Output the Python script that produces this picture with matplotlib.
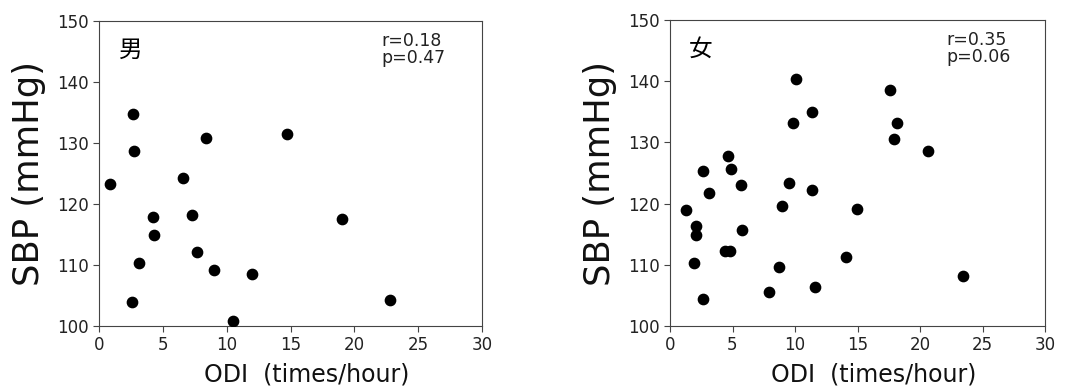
import matplotlib
matplotlib.use("Agg")
import matplotlib.pyplot as plt

# Data: male
male_odi = [0.86, 2.64, 2.77, 2.56, 3.11, 4.26, 4.34, 6.58, 7.32, 7.71, 8.36, 8.99,
            10.48, 11.99, 14.71, 19.02, 22.76]
male_sbp = [123.3, 134.8, 128.7, 104.0, 110.4, 117.9, 114.9, 124.3, 118.2, 112.1, 130.9,
            109.2, 100.9, 108.6, 131.4, 117.5, 104.2]
# Data: female
female_odi = [1.25, 2.11, 2.11, 1.95, 2.67, 2.67, 3.09, 4.61, 4.88, 4.37, 4.83, 5.68,
              5.73, 7.95, 8.72, 8.99, 9.49, 9.84, 10.08, 11.39, 11.39, 11.63, 14.08,
              14.96, 17.60, 17.95, 18.16, 20.67, 23.41]
female_sbp = [118.9, 116.4, 114.8, 110.3, 125.3, 104.4, 121.8, 127.7, 125.7, 112.3, 112.3,
              123.0, 115.7, 105.6, 109.7, 119.6, 123.3, 133.2, 140.4, 135.0, 122.2, 106.4,
              111.2, 119.1, 138.6, 130.6, 133.2, 128.6, 108.1]

panels = [
    ("男", male_odi, male_sbp, "r=0.18", "p=0.47"),
    ("女", female_odi, female_sbp, "r=0.35", "p=0.06"),
]
xticks = [0, 5, 10, 15, 20, 25, 30]
yticks = [100, 110, 120, 130, 140, 150]

fig = plt.figure(figsize=(10.75, 3.92), dpi=100)
rects = [
    [99 / 1075, 66 / 392, 383 / 1075, 305 / 392],
    [670 / 1075, 66 / 392, 375 / 1075, 306 / 392],
]

spine_col = "#444444"
for rect, (sex, xs, ys, rtxt, ptxt) in zip(rects, panels):
    ax = fig.add_axes(rect)
    ax.scatter(xs, ys, s=55, color="black", zorder=3)
    ax.set_xlim(0, 30)
    ax.set_ylim(100, 150)
    ax.set_xticks(xticks)
    ax.set_yticks(yticks)
    ax.tick_params(labelsize=12, colors=spine_col, labelcolor="#222222", length=4)
    for sp in ax.spines.values():
        sp.set_color(spine_col)
    ax.set_xlabel("ODI  (times/hour)", fontsize=17, color="#111111", x=0.542, labelpad=6)
    ax.set_ylabel("SBP (mmHg)", fontsize=25.5, color="#111111", labelpad=8)
    ax.text(0.082, 0.905, sex, transform=ax.transAxes, fontsize=17,
            family=["Noto Sans CJK JP", "DejaVu Sans"], ha="center", va="center")
    ax.text(0.737, 0.918, rtxt, transform=ax.transAxes, fontsize=12.5,
            ha="left", va="baseline", color="#222222")
    ax.text(0.737, 0.863, ptxt, transform=ax.transAxes, fontsize=12.5,
            ha="left", va="baseline", color="#222222")

fig.savefig("out.png", dpi=100)
